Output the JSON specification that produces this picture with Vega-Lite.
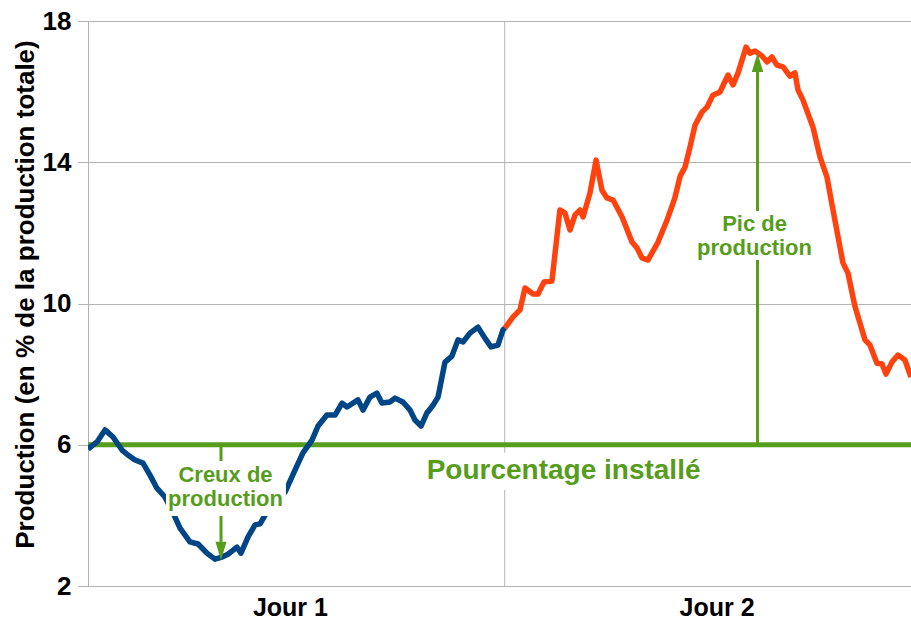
{
  "$schema": "https://vega.github.io/schema/vega-lite/v6.json",
  "width": 823,
  "height": 565,
  "autosize": {"type": "none"},
  "padding": {"left": 88, "top": 21, "right": 0, "bottom": 33},
  "background": "white",
  "config": {
    "view": {"stroke": null},
    "font": "Liberation Sans"
  },
  "datasets": {
    "prod": [
      {"h": 0, "v": 5.88, "s": "Jour 1"},
      {"h": 0.52, "v": 6.08, "s": "Jour 1"},
      {"h": 0.98, "v": 6.42, "s": "Jour 1"},
      {"h": 1.44, "v": 6.22, "s": "Jour 1"},
      {"h": 1.96, "v": 5.85, "s": "Jour 1"},
      {"h": 2.30, "v": 5.71, "s": "Jour 1"},
      {"h": 2.71, "v": 5.57, "s": "Jour 1"},
      {"h": 3.17, "v": 5.48, "s": "Jour 1"},
      {"h": 3.57, "v": 5.14, "s": "Jour 1"},
      {"h": 3.97, "v": 4.77, "s": "Jour 1"},
      {"h": 4.43, "v": 4.52, "s": "Jour 1"},
      {"h": 4.90, "v": 4.07, "s": "Jour 1"},
      {"h": 5.30, "v": 3.64, "s": "Jour 1"},
      {"h": 5.87, "v": 3.25, "s": "Jour 1"},
      {"h": 6.34, "v": 3.19, "s": "Jour 1"},
      {"h": 6.85, "v": 2.93, "s": "Jour 1"},
      {"h": 7.31, "v": 2.76, "s": "Jour 1"},
      {"h": 7.72, "v": 2.82, "s": "Jour 1"},
      {"h": 8.06, "v": 2.90, "s": "Jour 1"},
      {"h": 8.58, "v": 3.10, "s": "Jour 1"},
      {"h": 8.81, "v": 2.93, "s": "Jour 1"},
      {"h": 9.22, "v": 3.39, "s": "Jour 1"},
      {"h": 9.62, "v": 3.73, "s": "Jour 1"},
      {"h": 9.91, "v": 3.76, "s": "Jour 1"},
      {"h": 10.20, "v": 4.01, "s": "Jour 1"},
      {"h": 10.77, "v": 4.32, "s": "Jour 1"},
      {"h": 11.35, "v": 4.66, "s": "Jour 1"},
      {"h": 11.92, "v": 5.28, "s": "Jour 1"},
      {"h": 12.38, "v": 5.77, "s": "Jour 1"},
      {"h": 12.90, "v": 6.13, "s": "Jour 1"},
      {"h": 13.25, "v": 6.53, "s": "Jour 1"},
      {"h": 13.76, "v": 6.84, "s": "Jour 1"},
      {"h": 14.23, "v": 6.84, "s": "Jour 1"},
      {"h": 14.63, "v": 7.18, "s": "Jour 1"},
      {"h": 14.92, "v": 7.07, "s": "Jour 1"},
      {"h": 15.55, "v": 7.27, "s": "Jour 1"},
      {"h": 15.84, "v": 6.98, "s": "Jour 1"},
      {"h": 16.24, "v": 7.35, "s": "Jour 1"},
      {"h": 16.64, "v": 7.46, "s": "Jour 1"},
      {"h": 16.93, "v": 7.18, "s": "Jour 1"},
      {"h": 17.39, "v": 7.21, "s": "Jour 1"},
      {"h": 17.68, "v": 7.32, "s": "Jour 1"},
      {"h": 18.14, "v": 7.21, "s": "Jour 1"},
      {"h": 18.55, "v": 6.98, "s": "Jour 1"},
      {"h": 18.83, "v": 6.70, "s": "Jour 1"},
      {"h": 19.18, "v": 6.53, "s": "Jour 1"},
      {"h": 19.52, "v": 6.90, "s": "Jour 1"},
      {"h": 19.87, "v": 7.12, "s": "Jour 1"},
      {"h": 20.16, "v": 7.35, "s": "Jour 1"},
      {"h": 20.56, "v": 8.34, "s": "Jour 1"},
      {"h": 20.96, "v": 8.51, "s": "Jour 1"},
      {"h": 21.31, "v": 8.97, "s": "Jour 1"},
      {"h": 21.60, "v": 8.91, "s": "Jour 1"},
      {"h": 22.00, "v": 9.16, "s": "Jour 1"},
      {"h": 22.46, "v": 9.33, "s": "Jour 1"},
      {"h": 22.86, "v": 9.02, "s": "Jour 1"},
      {"h": 23.21, "v": 8.77, "s": "Jour 1"},
      {"h": 23.61, "v": 8.82, "s": "Jour 1"},
      {"h": 23.90, "v": 9.25, "s": "Jour 1"},
      {"h": 24.02, "v": 9.31, "s": "Jour 1"},
      {"h": 24.02, "v": 9.31, "s": "Jour 2"},
      {"h": 24.48, "v": 9.62, "s": "Jour 2"},
      {"h": 24.88, "v": 9.82, "s": "Jour 2"},
      {"h": 25.17, "v": 10.44, "s": "Jour 2"},
      {"h": 25.63, "v": 10.27, "s": "Jour 2"},
      {"h": 25.92, "v": 10.27, "s": "Jour 2"},
      {"h": 26.26, "v": 10.61, "s": "Jour 2"},
      {"h": 26.72, "v": 10.64, "s": "Jour 2"},
      {"h": 27.18, "v": 12.65, "s": "Jour 2"},
      {"h": 27.47, "v": 12.56, "s": "Jour 2"},
      {"h": 27.76, "v": 12.08, "s": "Jour 2"},
      {"h": 28.05, "v": 12.51, "s": "Jour 2"},
      {"h": 28.34, "v": 12.65, "s": "Jour 2"},
      {"h": 28.51, "v": 12.45, "s": "Jour 2"},
      {"h": 28.91, "v": 13.13, "s": "Jour 2"},
      {"h": 29.26, "v": 14.06, "s": "Jour 2"},
      {"h": 29.60, "v": 13.21, "s": "Jour 2"},
      {"h": 29.89, "v": 12.99, "s": "Jour 2"},
      {"h": 30.24, "v": 12.93, "s": "Jour 2"},
      {"h": 30.76, "v": 12.45, "s": "Jour 2"},
      {"h": 31.33, "v": 11.74, "s": "Jour 2"},
      {"h": 31.62, "v": 11.57, "s": "Jour 2"},
      {"h": 31.91, "v": 11.29, "s": "Jour 2"},
      {"h": 32.25, "v": 11.23, "s": "Jour 2"},
      {"h": 32.83, "v": 11.74, "s": "Jour 2"},
      {"h": 33.35, "v": 12.36, "s": "Jour 2"},
      {"h": 33.80, "v": 12.99, "s": "Jour 2"},
      {"h": 34.10, "v": 13.60, "s": "Jour 2"},
      {"h": 34.39, "v": 13.87, "s": "Jour 2"},
      {"h": 34.67, "v": 14.43, "s": "Jour 2"},
      {"h": 34.96, "v": 15.05, "s": "Jour 2"},
      {"h": 35.36, "v": 15.42, "s": "Jour 2"},
      {"h": 35.65, "v": 15.56, "s": "Jour 2"},
      {"h": 35.99, "v": 15.90, "s": "Jour 2"},
      {"h": 36.40, "v": 15.99, "s": "Jour 2"},
      {"h": 36.86, "v": 16.47, "s": "Jour 2"},
      {"h": 37.15, "v": 16.19, "s": "Jour 2"},
      {"h": 37.44, "v": 16.53, "s": "Jour 2"},
      {"h": 37.90, "v": 17.26, "s": "Jour 2"},
      {"h": 38.13, "v": 17.09, "s": "Jour 2"},
      {"h": 38.41, "v": 17.15, "s": "Jour 2"},
      {"h": 38.82, "v": 17.01, "s": "Jour 2"},
      {"h": 39.11, "v": 16.84, "s": "Jour 2"},
      {"h": 39.39, "v": 16.98, "s": "Jour 2"},
      {"h": 39.68, "v": 16.75, "s": "Jour 2"},
      {"h": 40.03, "v": 16.70, "s": "Jour 2"},
      {"h": 40.43, "v": 16.44, "s": "Jour 2"},
      {"h": 40.72, "v": 16.53, "s": "Jour 2"},
      {"h": 40.89, "v": 16.05, "s": "Jour 2"},
      {"h": 41.18, "v": 15.76, "s": "Jour 2"},
      {"h": 41.75, "v": 15.00, "s": "Jour 2"},
      {"h": 42.16, "v": 14.15, "s": "Jour 2"},
      {"h": 42.56, "v": 13.58, "s": "Jour 2"},
      {"h": 42.85, "v": 12.80, "s": "Jour 2"},
      {"h": 43.48, "v": 11.15, "s": "Jour 2"},
      {"h": 43.77, "v": 10.86, "s": "Jour 2"},
      {"h": 44.17, "v": 9.92, "s": "Jour 2"},
      {"h": 44.75, "v": 8.97, "s": "Jour 2"},
      {"h": 45.04, "v": 8.82, "s": "Jour 2"},
      {"h": 45.44, "v": 8.31, "s": "Jour 2"},
      {"h": 45.73, "v": 8.29, "s": "Jour 2"},
      {"h": 45.96, "v": 8.00, "s": "Jour 2"},
      {"h": 46.30, "v": 8.34, "s": "Jour 2"},
      {"h": 46.65, "v": 8.54, "s": "Jour 2"},
      {"h": 47.05, "v": 8.40, "s": "Jour 2"},
      {"h": 47.40, "v": 7.92, "s": "Jour 2"}
    ],
    "boxes": [
      {"x1": 4.49, "x2": 11.40, "y1": 3.98, "y2": 5.54},
      {"x1": 35.02, "x2": 41.75, "y1": 11.23, "y2": 12.62},
      {"x1": 19.12, "x2": 35.65, "y1": 4.72, "y2": 5.77}
    ],
    "notes": [
      {"x": 7.92, "y": 4.95, "t": "Creux de"},
      {"x": 7.92, "y": 4.27, "t": "production"},
      {"x": 38.39, "y": 12.05, "t": "Pic de"},
      {"x": 38.39, "y": 11.37, "t": "production"}
    ],
    "arrows": [
      {"x": 7.66, "y1": 6, "y2": 3.25},
      {"x": 38.56, "y1": 6, "y2": 16.56}
    ],
    "one": [{}]
  },
  "encoding": {
    "x": {
      "type": "quantitative",
      "scale": {"domain": [0, 47.4], "nice": false, "zero": false},
      "axis": {
        "values": [11.63, 36.2],
        "labelExpr": "datum.value < 24 ? 'Jour 1' : 'Jour 2'",
        "grid": false,
        "ticks": false,
        "tickSize": 0,
        "domain": true,
        "domainColor": "#b3b3b3",
        "domainWidth": 1,
        "labelFont": "Liberation Sans",
        "labelFontSize": 25,
        "labelFontWeight": "bold",
        "labelColor": "#000000",
        "labelBaseline": "alphabetic",
        "labelPadding": 29,
        "labelFlush": false,
        "labelOverlap": false,
        "title": null
      }
    },
    "y": {
      "type": "quantitative",
      "scale": {"domain": [2, 18], "nice": false, "zero": false},
      "axis": {
        "values": [2, 6, 10, 14, 18],
        "grid": true,
        "gridColor": "#b3b3b3",
        "gridWidth": 1,
        "domainColor": "#b3b3b3",
        "tickColor": "#b3b3b3",
        "tickSize": 10,
        "labelFont": "Liberation Sans",
        "labelFontSize": 26,
        "labelFontWeight": "bold",
        "labelColor": "#000000",
        "labelPadding": 7,
        "labelFlush": false,
        "labelOverlap": false,
        "title": "Production (en % de la production totale)",
        "titleFont": "Liberation Sans",
        "titleFontSize": 26,
        "titleFontWeight": "bold",
        "titleColor": "#000000",
        "titleX": -54.5,
        "titleY": 273,
        "titleAlign": "center",
        "titleBaseline": "alphabetic",
        "titleAngle": -90
      }
    }
  },
  "layer": [
    {
      "data": {"name": "one"},
      "mark": {"type": "rule", "color": "#b3b3b3", "strokeWidth": 1},
      "encoding": {"x": {"datum": 24}}
    },
    {
      "data": {"name": "one"},
      "mark": {"type": "rule", "color": "#579d1c", "strokeWidth": 5},
      "encoding": {"y": {"datum": 6}}
    },
    {
      "data": {"name": "prod"},
      "mark": {"type": "line", "strokeWidth": 5.5, "strokeJoin": "round", "clip": true},
      "encoding": {
        "x": {"field": "h"},
        "y": {"field": "v"},
        "color": {
          "field": "s",
          "type": "nominal",
          "scale": {"domain": ["Jour 1", "Jour 2"], "range": ["#004586", "#ff420e"]},
          "legend": null
        }
      }
    },
    {
      "data": {"name": "arrows"},
      "mark": {"type": "rule", "color": "#579d1c", "strokeWidth": 3},
      "encoding": {
        "x": {"field": "x"},
        "y": {"field": "y1"},
        "y2": {"field": "y2"}
      }
    },
    {
      "data": {"name": "boxes"},
      "mark": {"type": "rect", "color": "white", "opacity": 1},
      "encoding": {
        "x": {"field": "x1"},
        "x2": {"field": "x2"},
        "y": {"field": "y1"},
        "y2": {"field": "y2"}
      }
    },
    {
      "data": {"name": "notes"},
      "mark": {
        "type": "text",
        "font": "Liberation Sans",
        "fontSize": 22,
        "fontWeight": "bold",
        "color": "#579d1c",
        "align": "center",
        "baseline": "alphabetic"
      },
      "encoding": {
        "x": {"field": "x"},
        "y": {"field": "y"},
        "text": {"field": "t"}
      }
    },
    {
      "data": {"name": "one"},
      "mark": {
        "type": "text",
        "font": "Liberation Sans",
        "fontSize": 28,
        "fontWeight": "bold",
        "color": "#579d1c",
        "align": "center",
        "baseline": "alphabetic"
      },
      "encoding": {
        "x": {"datum": 27.39},
        "y": {"datum": 5.03},
        "text": {"value": "Pourcentage installé"}
      }
    },
    {
      "data": {"name": "one"},
      "mark": {
        "type": "point",
        "shape": "M0,1L-0.6,-1L0.6,-1Z",
        "filled": true,
        "color": "#579d1c",
        "opacity": 1,
        "size": 340,
        "strokeWidth": 0
      },
      "encoding": {
        "x": {"datum": 7.66},
        "y": {"datum": 2.99}
      }
    },
    {
      "data": {"name": "one"},
      "mark": {
        "type": "point",
        "shape": "M0,-1L-0.6,1L0.6,1Z",
        "filled": true,
        "color": "#579d1c",
        "opacity": 1,
        "size": 360,
        "strokeWidth": 0
      },
      "encoding": {
        "x": {"datum": 38.56},
        "y": {"datum": 16.825}
      }
    }
  ]
}
